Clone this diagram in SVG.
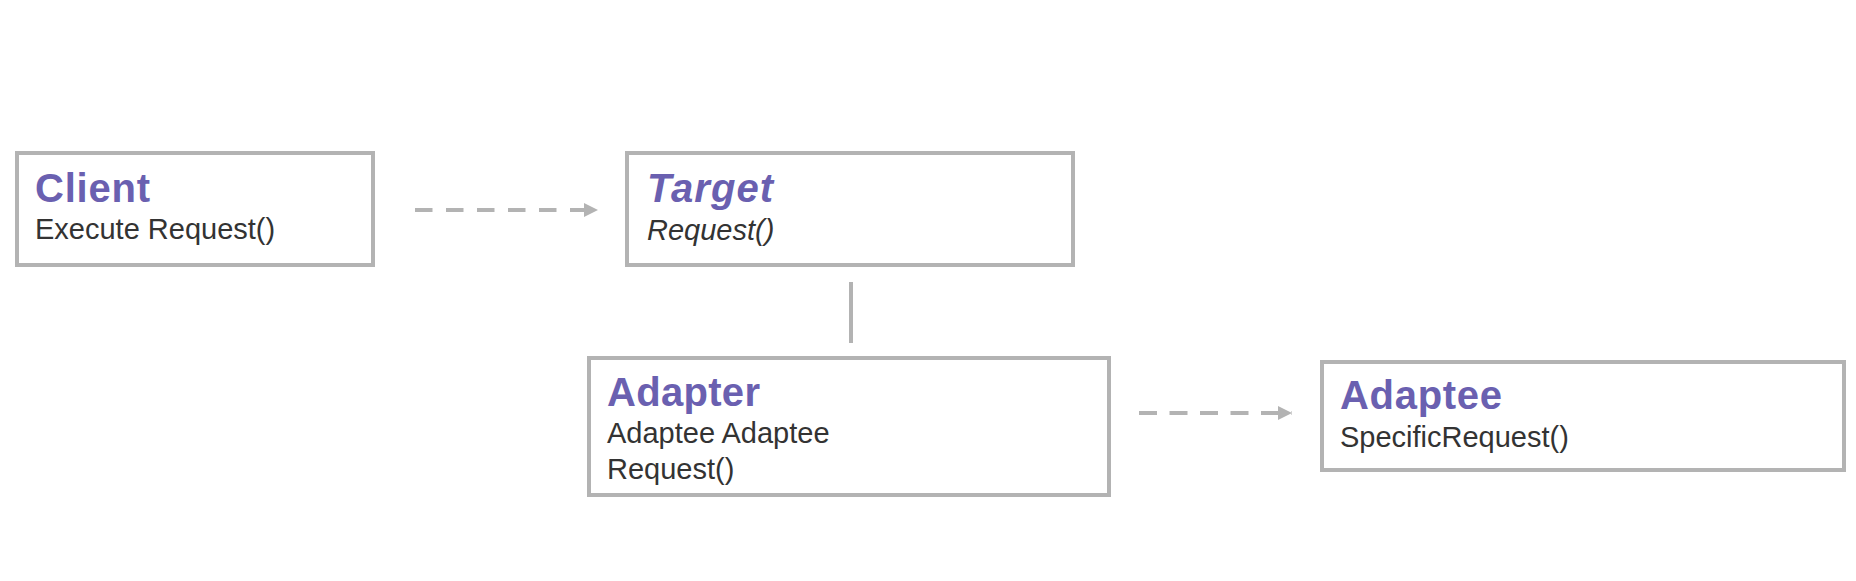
<svg xmlns="http://www.w3.org/2000/svg" width="1856" height="581" viewBox="0 0 1856 581">
<style>
.box{fill:#ffffff;stroke:#b3b3b3;stroke-width:4}
.title{font-family:"Liberation Sans",Arial,sans-serif;font-weight:bold;font-size:40px;fill:#6a60b0}
.sub{font-family:"Liberation Sans",Arial,sans-serif;font-size:29px;fill:#333333}
.it{font-style:italic}
.conn{stroke:#b3b3b3;stroke-width:4;fill:none}
.dash{stroke-dasharray:17.5 13.5}
</style>
<defs>
<marker id="arr" markerUnits="userSpaceOnUse" markerWidth="14" markerHeight="14" viewBox="0 0 14 14" refX="14" refY="7" orient="auto">
<path d="M0,0 L14,7 L0,14 z" fill="#b3b3b3"/>
</marker>
</defs>
<rect width="1856" height="581" fill="#ffffff"/>
<g id="connectors">
<line class="conn dash" x1="415" y1="210" x2="598" y2="210" marker-end="url(#arr)"/>
<line class="conn" x1="851" y1="282" x2="851" y2="343"/>
<line class="conn dash" x1="1139" y1="413" x2="1292" y2="413" style="stroke-dasharray:18 12.5" marker-end="url(#arr)"/>
</g>
<g id="client">
<rect class="box" x="17" y="153" width="356" height="112"/>
<text class="title" x="35" y="202" textLength="115" lengthAdjust="spacing">Client</text>
<text class="sub" x="35" y="239">Execute Request()</text>
</g>
<g id="target">
<rect class="box" x="627" y="153" width="446" height="112"/>
<text class="title it" x="647" y="202" textLength="126" lengthAdjust="spacing">Target</text>
<text class="sub it" x="647" y="240">Request()</text>
</g>
<g id="adapter">
<rect class="box" x="589" y="358" width="520" height="137"/>
<text class="title" x="607" y="406" textLength="153" lengthAdjust="spacing">Adapter</text>
<text class="sub" x="607" y="443">Adaptee Adaptee</text>
<text class="sub" x="607" y="479">Request()</text>
</g>
<g id="adaptee">
<rect class="box" x="1322" y="362" width="522" height="108"/>
<text class="title" x="1340" y="409" textLength="162" lengthAdjust="spacing">Adaptee</text>
<text class="sub" x="1340" y="447">SpecificRequest()</text>
</g>
</svg>
